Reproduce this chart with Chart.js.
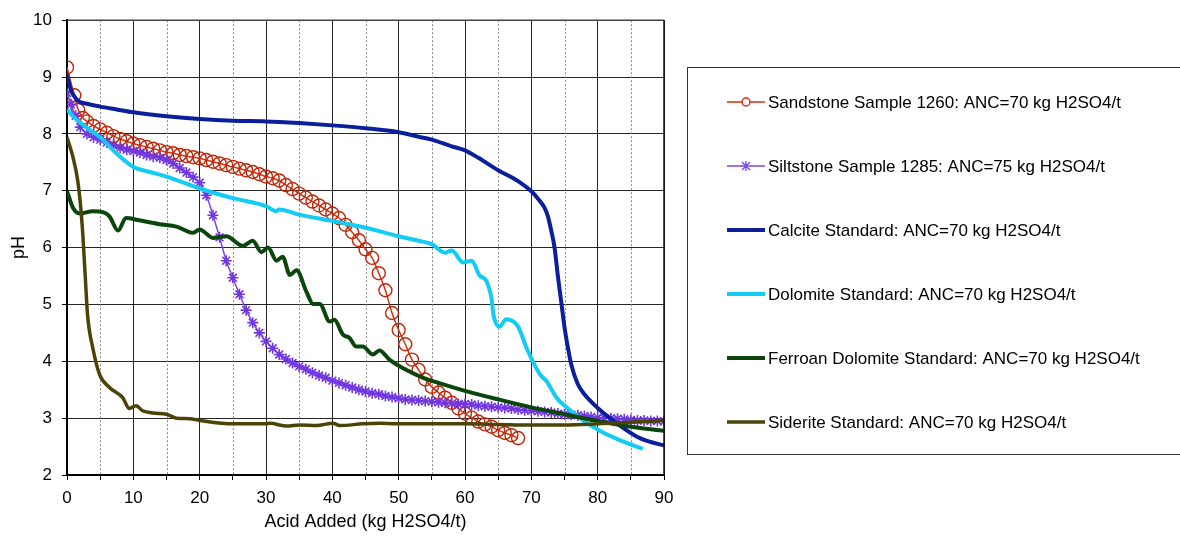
<!DOCTYPE html>
<html lang="en">
<head>
    <meta charset="UTF-8">
    <title>Acid titration curves</title>
    <script src="https://cdn.jsdelivr.net/npm/chart.js"></script>
    <style>
        html, body {
            margin: 0;
            padding: 0;
            width: 1180px;
            height: 537px;
            overflow: hidden;
            background: #fff;
        }
        #wrap {
            width: 1180px;
            height: 537px;
        }
    </style>
</head>
<body>
    <div id="wrap"><canvas id="phChart"></canvas></div>

    <script>
        // x = acid added (kg H2SO4/t), y = pH
        const sandX = [0, 1.1, 1.7, 2.4, 3, 4, 5, 6, 7, 8, 9, 10, 11, 12, 13, 14, 15, 16, 17, 18, 19, 20,
            21, 22, 23, 24, 25, 26, 27, 28, 29, 30, 31, 32, 33, 34, 35, 36, 37, 38, 39, 40,
            41, 42, 43, 44, 45, 46, 47, 48, 49, 50, 51, 52, 53, 54, 55, 56, 57, 58, 59, 60,
            61, 62, 63, 64, 65, 66, 67, 68];
        const sandY = [9.17, 8.68, 8.42, 8.28, 8.22, 8.14, 8.08, 8.02, 7.96, 7.91, 7.87, 7.83, 7.80, 7.77, 7.74, 7.71, 7.68, 7.66, 7.63, 7.61, 7.59, 7.57,
            7.54, 7.51, 7.48, 7.45, 7.42, 7.39, 7.36, 7.33, 7.29, 7.25, 7.22, 7.18, 7.10, 7.03, 6.95, 6.88, 6.81, 6.74, 6.67, 6.60,
            6.52, 6.40, 6.27, 6.13, 5.97, 5.82, 5.55, 5.25, 4.85, 4.55, 4.30, 4.03, 3.85, 3.68, 3.55, 3.45, 3.36, 3.27, 3.17, 3.08,
            3.01, 2.94, 2.89, 2.85, 2.79, 2.74, 2.70, 2.65];

        const siltX = [0, 0.6, 1.3, 2, 3, 4, 5, 6, 7, 8, 9, 10, 11, 12, 13, 14, 15, 16, 17, 18, 19, 20,
            21, 22, 23, 24, 25, 26, 27, 28, 29, 30, 31, 32, 33, 34, 35, 36, 37, 38, 39, 40,
            41, 42, 43, 44, 45, 46, 47, 48, 49, 50, 51, 52, 53, 54, 55, 56, 57, 58, 59, 60,
            61, 62, 63, 64, 65, 66, 67, 68, 69, 70, 71, 72, 73, 74, 75, 76, 77, 78, 79, 80,
            81, 82, 83, 84, 85, 86, 87, 88, 89, 90];
        const siltY = [8.72, 8.52, 8.32, 8.12, 8.00, 7.94, 7.90, 7.85, 7.80, 7.75, 7.72, 7.70, 7.67, 7.63, 7.60, 7.58, 7.54, 7.48, 7.40, 7.32, 7.24, 7.14,
            6.92, 6.57, 6.18, 5.77, 5.47, 5.18, 4.90, 4.68, 4.50, 4.35, 4.23, 4.12, 4.04, 3.97, 3.91, 3.86, 3.80, 3.75, 3.71, 3.66,
            3.62, 3.58, 3.54, 3.50, 3.47, 3.44, 3.42, 3.39, 3.37, 3.35, 3.33, 3.32, 3.31, 3.30, 3.29, 3.28, 3.27, 3.26, 3.25, 3.25,
            3.24, 3.22, 3.21, 3.20, 3.19, 3.18, 3.17, 3.15, 3.14, 3.13, 3.12, 3.11, 3.10, 3.08, 3.07, 3.06, 3.05, 3.04, 3.02, 3.01,
            3.00, 3.00, 2.99, 2.98, 2.97, 2.96, 2.96, 2.95, 2.95, 2.94];

        const calciteX = [0, 0.5, 1.5, 3, 5, 7.5, 10, 15, 20, 25, 30, 35, 40, 45, 50, 53, 55, 58, 60, 62, 65, 68, 70,
            71, 72, 72.5, 73, 73.5, 74, 74.5, 75, 75.5, 76, 77, 78, 80, 83, 86, 88, 90];
        const calciteY = [9.05, 8.8, 8.6, 8.53, 8.48, 8.43, 8.38, 8.31, 8.26, 8.23, 8.22, 8.19, 8.15, 8.1, 8.03, 7.95, 7.9, 7.78, 7.71, 7.58, 7.36, 7.17, 6.99,
            6.86, 6.7, 6.55, 6.3, 6.0, 5.5, 5.05, 4.6, 4.25, 3.95, 3.6, 3.42, 3.18, 2.9, 2.67, 2.58, 2.52];

        const dolomiteX = [0, 1, 2.5, 5, 7.5, 10, 12.5, 15, 20, 25, 30, 31.5, 32, 35, 40, 45, 50, 53, 55, 57, 58, 59.7, 61,
            62.2, 63.2, 64, 64.3, 65.2, 66.2, 68, 69.3, 71.3, 72.3, 73.8, 75.3, 77.8, 80.3, 82.8, 86.8];
        const dolomiteY = [8.43, 8.3, 8.15, 7.94, 7.65, 7.42, 7.33, 7.25, 7.04, 6.87, 6.73, 6.64, 6.67, 6.58, 6.47, 6.35, 6.2, 6.12, 6.06, 5.91, 5.95, 5.74, 5.77,
            5.51, 5.42, 5.1, 4.81, 4.61, 4.74, 4.61, 4.23, 3.77, 3.65, 3.36, 3.19, 2.96, 2.78, 2.64, 2.46];

        const ferroanX = [0, 0.9, 1.9, 3.9, 5.5, 6.4, 7.7, 8.9, 10.9, 14, 16.5, 19, 20, 22, 24, 26.5, 28, 29.3, 30.3,
            31.6, 32.5, 33.6, 34.6, 36.1, 37.1, 38.1, 39.6, 40.3, 41.6, 42.6, 43.6, 44.6, 46.1, 47.1, 48.6, 50.6,
            53.7, 56, 60, 65, 70, 75, 80, 85, 90];
        const ferroanY = [6.99, 6.7, 6.6, 6.64, 6.62, 6.55, 6.3, 6.52, 6.48, 6.41, 6.37, 6.26, 6.32, 6.17, 6.2, 6.03, 6.12, 5.92, 6.0,
            5.77, 5.84, 5.52, 5.6, 5.22, 5.01, 5.01, 4.7, 4.73, 4.47, 4.41, 4.26, 4.26, 4.12, 4.19, 4.03, 3.88,
            3.71, 3.62, 3.48, 3.33, 3.19, 3.07, 2.95, 2.85, 2.78];

        const sideriteX = [0, 0.9, 1.6, 2.1, 2.4, 2.8, 3.1, 3.9, 4.9, 6.4, 8.4, 9.4, 10.4, 11.4, 13, 15, 16.5, 18.5, 20,
            25, 30, 30.6, 33.1, 35.1, 37.6, 40.1, 41.1, 44.6, 47.1, 49.6, 55, 60, 65, 70, 75, 80, 85, 90];
        const sideriteY = [7.94, 7.59, 7.19, 6.67, 6.2, 5.39, 4.81, 4.23, 3.77, 3.54, 3.36, 3.17, 3.22, 3.13, 3.09, 3.07, 3.0, 2.99, 2.96,
            2.9, 2.9, 2.91, 2.86, 2.88, 2.87, 2.91, 2.87, 2.9, 2.91, 2.9, 2.9, 2.9, 2.89, 2.88, 2.88, 2.9, 2.93, 2.96];

        const seriesLabels = [
            'Sandstone Sample 1260: ANC=70 kg H2SO4/t',
            'Siltstone Sample 1285: ANC=75 kg H2SO4/t',
            'Calcite Standard: ANC=70 kg H2SO4/t',
            'Dolomite Standard: ANC=70 kg H2SO4/t',
            'Ferroan Dolomite Standard: ANC=70 kg H2SO4/t',
            'Siderite Standard: ANC=70 kg H2SO4/t'
        ];

        const FONT = "'Liberation Sans', Arial, sans-serif";

        function pts(xs, ys) {
            return xs.map((x, i) => ({ x: x, y: ys[i] }));
        }

        const datasets = [
            {
                label: seriesLabels[0], data: pts(sandX, sandY),
                borderColor: '#d8300e', borderWidth: 1.5,
                pointStyle: 'circle', pointRadius: 6.5, pointBorderWidth: 1.4,
                pointBorderColor: '#bf280a', pointBackgroundColor: 'rgba(0,0,0,0)',
                order: 5
            },
            {
                label: seriesLabels[1], data: pts(siltX, siltY),
                borderColor: '#7b45f0', borderWidth: 1.5,
                pointStyle: 'star', pointRadius: 5.5, pointBorderWidth: 1.6,
                pointBorderColor: '#7236e0', pointBackgroundColor: 'rgba(0,0,0,0)',
                order: 4
            },
            {
                label: seriesLabels[2], data: pts(calciteX, calciteY),
                borderColor: '#0a1f9c', borderWidth: 4, pointRadius: 0, order: 3
            },
            {
                label: seriesLabels[3], data: pts(dolomiteX, dolomiteY),
                borderColor: '#12ccf6', borderWidth: 4, pointRadius: 0, order: 2
            },
            {
                label: seriesLabels[4], data: pts(ferroanX, ferroanY),
                borderColor: '#0a460c', borderWidth: 4, pointRadius: 0, order: 1
            },
            {
                label: seriesLabels[5], data: pts(sideriteX, sideriteY),
                borderColor: '#4b4406', borderWidth: 3.5, pointRadius: 0, order: 0
            }
        ];
        datasets.forEach(d => {
            d.showLine = true;
            d.fill = false;
            d.cubicInterpolationMode = 'monotone';
        });

        // dashed minor gridlines + frame on top and right
        const framePlugin = {
            id: 'frame',
            beforeDatasetsDraw(chart) {
                const { ctx, chartArea } = chart;
                const xs = chart.scales.x;
                ctx.save();
                ctx.strokeStyle = '#8a8a8a';
                ctx.lineWidth = 1;
                ctx.setLineDash([2, 2]);
                for (let v = 5; v < 90; v += 10) {
                    const px = Math.round(xs.getPixelForValue(v)) + 0.5;
                    ctx.beginPath();
                    ctx.moveTo(px, chartArea.top);
                    ctx.lineTo(px, chartArea.bottom);
                    ctx.stroke();
                }
                ctx.restore();
            },
            afterDatasetsDraw(chart) {
                const { ctx, chartArea } = chart;
                ctx.save();
                ctx.strokeStyle = '#444';
                ctx.lineWidth = 1.5;
                ctx.beginPath();
                ctx.moveTo(chartArea.left, chartArea.top);
                ctx.lineTo(chartArea.right, chartArea.top);
                ctx.stroke();
                ctx.strokeStyle = '#111';
                ctx.beginPath();
                ctx.moveTo(chartArea.right, chartArea.top);
                ctx.lineTo(chartArea.right, chartArea.bottom);
                ctx.stroke();
                ctx.restore();
            }
        };

        // boxed legend on the right, like the spreadsheet original
        const legendBox = {
            id: 'legendBox',
            afterDraw(chart) {
                const ctx = chart.ctx;
                ctx.save();
                ctx.strokeStyle = '#333';
                ctx.lineWidth = 1;
                ctx.strokeRect(687.5, 67.5, 520, 387);

                ctx.font = '17px ' + FONT;
                ctx.textBaseline = 'middle';
                ctx.textAlign = 'left';
                chart.data.datasets.forEach((ds, i) => {
                    const y = 102 + i * 64;
                    ctx.strokeStyle = ds.borderColor;
                    ctx.lineWidth = ds.borderWidth;
                    ctx.beginPath();
                    ctx.moveTo(727, y);
                    ctx.lineTo(765, y);
                    ctx.stroke();
                    if (ds.pointStyle === 'circle') {
                        ctx.fillStyle = '#fff';
                        ctx.lineWidth = 1.5;
                        ctx.beginPath();
                        ctx.arc(746, y, 4, 0, Math.PI * 2);
                        ctx.fill();
                        ctx.stroke();
                    } else if (ds.pointStyle === 'star') {
                        ctx.lineWidth = 1.3;
                        ctx.beginPath();
                        ctx.moveTo(746, y - 5); ctx.lineTo(746, y + 5);
                        ctx.moveTo(742, y - 4); ctx.lineTo(750, y + 4);
                        ctx.moveTo(750, y - 4); ctx.lineTo(742, y + 4);
                        ctx.stroke();
                    }
                    ctx.fillStyle = '#000';
                    ctx.fillText(ds.label, 768, y + 1);
                });
                ctx.restore();
            }
        };

        const config = {
            type: 'scatter',
            data: { datasets: datasets },
            options: {
                responsive: true,
                maintainAspectRatio: false,
                animation: false,
                layout: { padding: { top: 15, right: 516, bottom: 0, left: 0 } },
                plugins: {
                    legend: { display: false },
                    tooltip: { enabled: false }
                },
                scales: {
                    x: {
                        type: 'linear',
                        min: 0,
                        max: 90,
                        afterFit(scale) { scale.height = 62; },
                        ticks: {
                            stepSize: 5,
                            autoSkip: false,
                            maxRotation: 0,
                            padding: 8,
                            color: '#000',
                            font: { family: FONT, size: 17 },
                            callback: v => (v % 10 === 0 ? v : '')
                        },
                        grid: {
                            color: c => (c.tick && c.tick.value % 10 === 0 ? '#262626' : 'rgba(0,0,0,0)'),
                            tickColor: '#000',
                            tickLength: 5,
                            lineWidth: 1
                        },
                        border: { color: '#000', width: 2 },
                        title: {
                            display: true,
                            text: 'Acid Added (kg H2SO4/t)',
                            color: '#000',
                            font: { family: FONT, size: 18 },
                            padding: { top: 0, bottom: 4 }
                        }
                    },
                    y: {
                        min: 2,
                        max: 10,
                        afterFit(scale) { scale.width = 67; },
                        ticks: {
                            stepSize: 1,
                            padding: 10,
                            color: '#000',
                            font: { family: FONT, size: 17 }
                        },
                        grid: {
                            color: '#262626',
                            tickColor: '#000',
                            tickLength: 5,
                            lineWidth: 1
                        },
                        border: { color: '#000', width: 2 },
                        title: {
                            display: true,
                            text: 'pH',
                            color: '#000',
                            font: { family: FONT, size: 18 },
                            padding: { top: 8, bottom: 0 }
                        }
                    }
                }
            },
            plugins: [framePlugin, legendBox]
        };

        const ctx = document.getElementById('phChart').getContext('2d');
        const phChart = new Chart(ctx, config);
    </script>
</body>
</html>
